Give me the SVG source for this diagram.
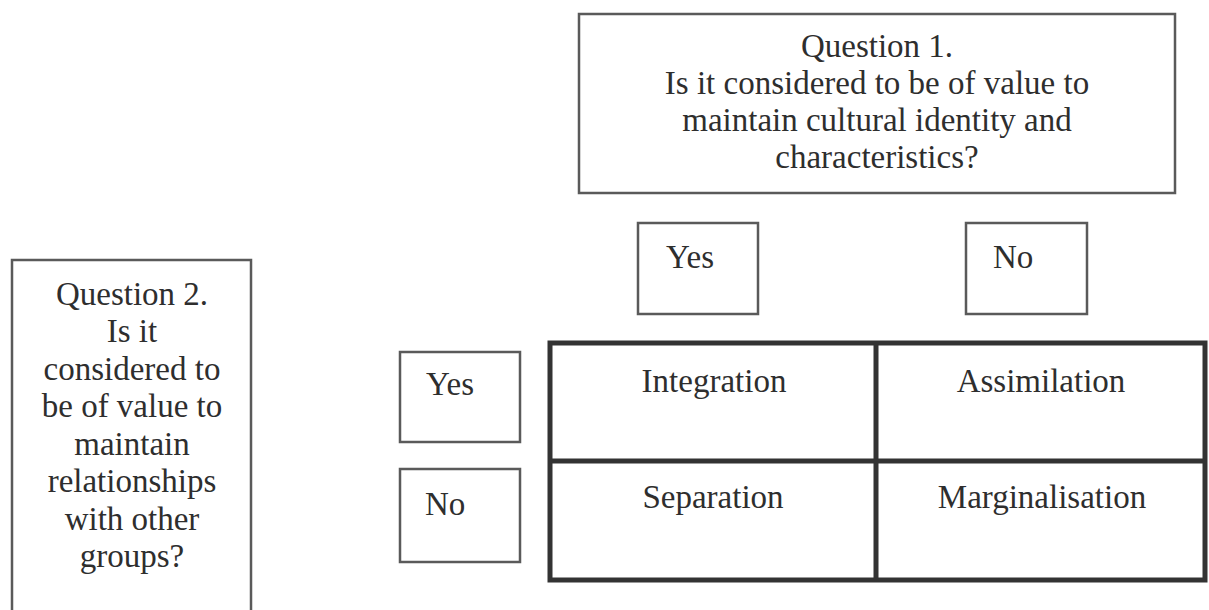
<svg xmlns="http://www.w3.org/2000/svg" width="1209" height="610" viewBox="0 0 1209 610">
<style>
  .box { fill: #ffffff; stroke: #5a5a5a; stroke-width: 2.5; }
  .grid { fill: none; stroke: #333333; stroke-width: 5; }
  text { font-family: "Liberation Serif", "Times New Roman", serif; font-size: 33px; fill: #2e2e2e; }
  .c { text-anchor: middle; }
</style>
<rect width="1209" height="610" fill="#ffffff"/>
<g id="question1">
  <rect class="box" x="579" y="14" width="596" height="179"/>
  <text class="c" x="877" y="57">Question 1.</text>
  <text class="c" x="877" y="94">Is it considered to be of value to</text>
  <text class="c" x="877" y="131">maintain cultural identity and</text>
  <text class="c" x="877" y="168">characteristics?</text>
</g>
<g id="question2">
  <rect class="box" x="12" y="260" width="239" height="370"/>
  <text class="c" x="132" y="305">Question 2.</text>
  <text class="c" x="132" y="342">Is it</text>
  <text class="c" x="132" y="380">considered to</text>
  <text class="c" x="132" y="417">be of value to</text>
  <text class="c" x="132" y="455">maintain</text>
  <text class="c" x="132" y="492">relationships</text>
  <text class="c" x="132" y="530">with other</text>
  <text class="c" x="132" y="567">groups?</text>
</g>
<g id="q1-yes">
  <rect class="box" x="638" y="223" width="120" height="91"/>
  <text x="666" y="268">Yes</text>
</g>
<g id="q1-no">
  <rect class="box" x="966" y="223" width="121" height="91"/>
  <text x="993" y="268">No</text>
</g>
<g id="q2-yes">
  <rect class="box" x="400" y="352" width="120" height="90"/>
  <text x="426" y="395">Yes</text>
</g>
<g id="q2-no">
  <rect class="box" x="400" y="469" width="120" height="93"/>
  <text x="425" y="515">No</text>
</g>
<g id="grid">
  <rect class="grid" x="550" y="343" width="655" height="237"/>
  <line class="grid" x1="876" y1="343" x2="876" y2="580"/>
  <line class="grid" x1="550" y1="461" x2="1205" y2="461"/>
</g>
<g id="integration"><text class="c" x="714" y="392">Integration</text></g>
<g id="assimilation"><text class="c" x="1041" y="392">Assimilation</text></g>
<g id="separation"><text class="c" x="713" y="508">Separation</text></g>
<g id="marginalisation"><text class="c" x="1042" y="508">Marginalisation</text></g>
<g id="connectors"></g>
</svg>
